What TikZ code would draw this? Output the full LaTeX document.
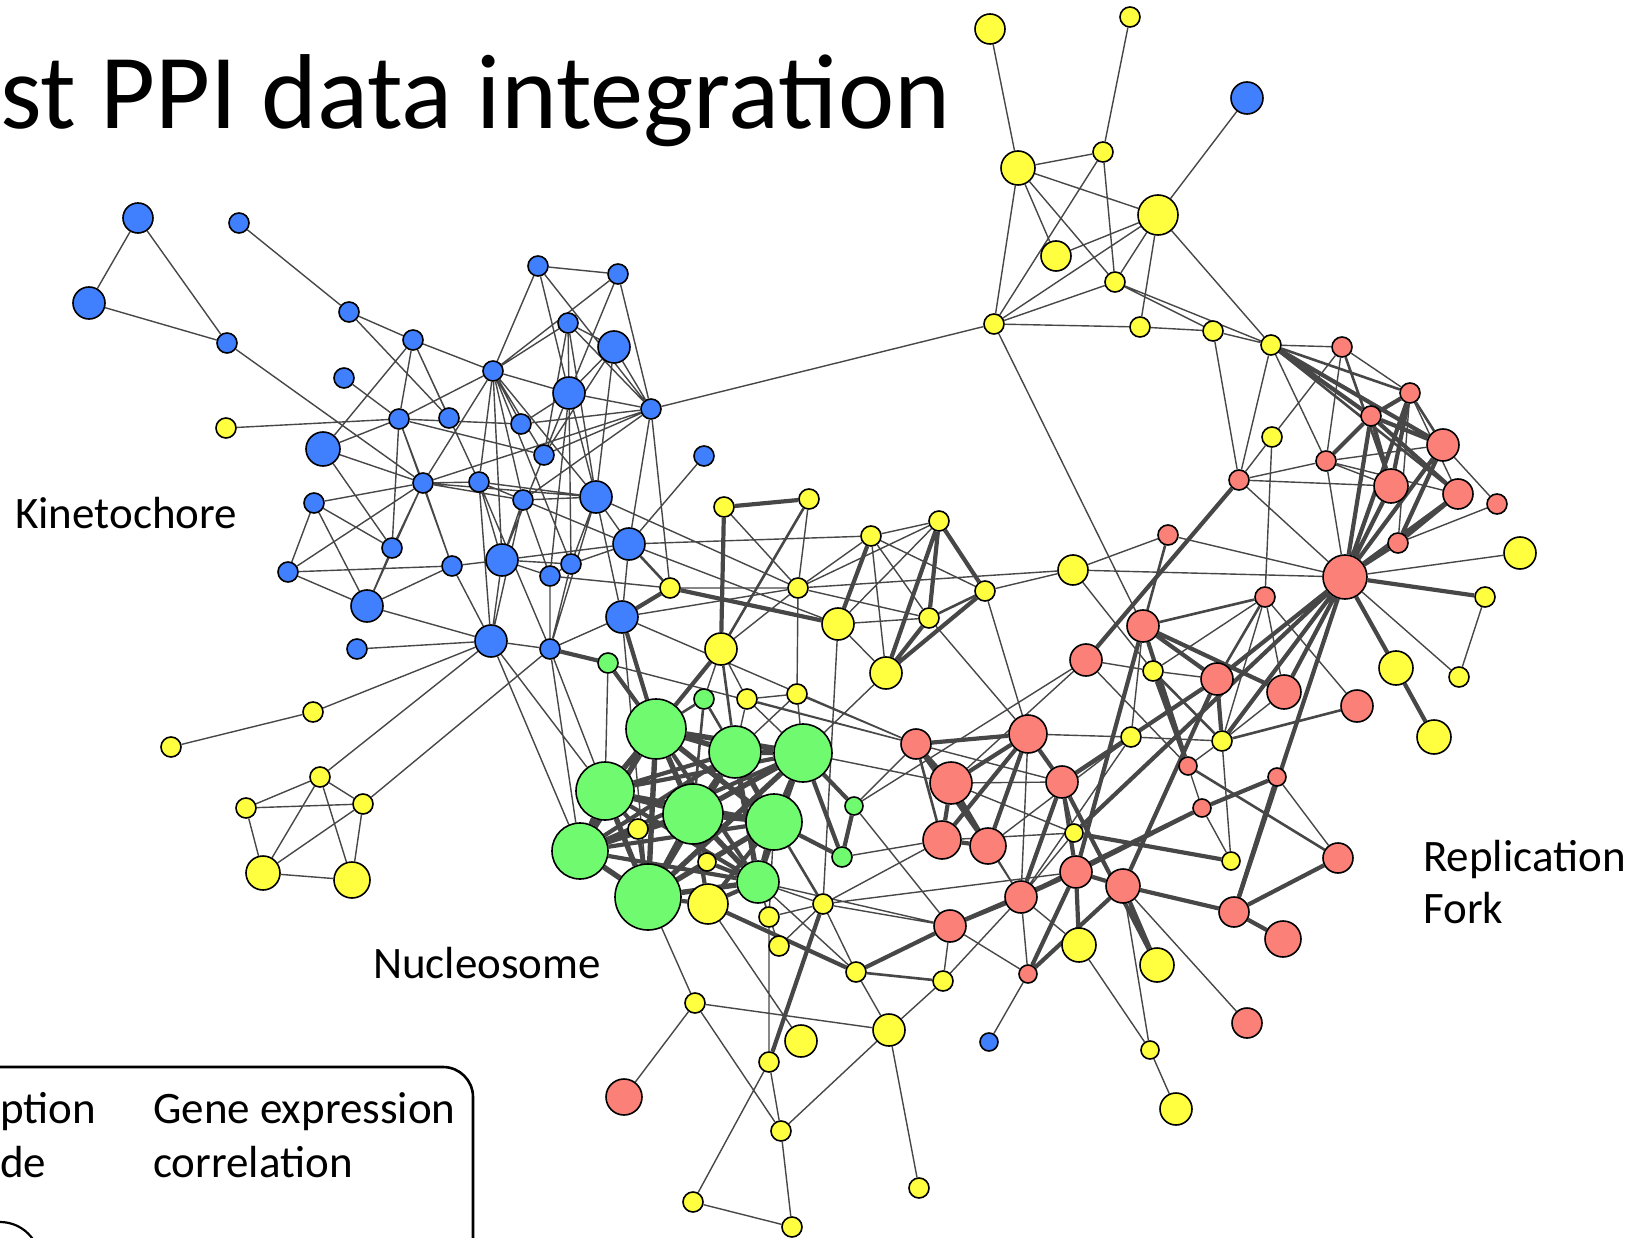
\documentclass[tikz,border=0pt]{standalone}
\usepackage{fontspec}
\setmainfont{Carlito}
\usetikzlibrary{backgrounds}
\definecolor{kinblue}{HTML}{4080FF}
\definecolor{othyellow}{HTML}{FFFF40}
\definecolor{nucgreen}{HTML}{70FA70}
\definecolor{repred}{HTML}{FA8078}
\definecolor{linkgray}{HTML}{474747}

\begin{document}
\begin{tikzpicture}[x=1pt,y=-1pt,
  prot/.style={circle,draw=black,line width=1.6pt,inner sep=0pt,minimum size={2*#1}},
  kin/.style={prot=#1,fill=kinblue},
  oth/.style={prot=#1,fill=othyellow},
  nuc/.style={prot=#1,fill=nucgreen},
  rep/.style={prot=#1,fill=repred},
  lnk/.style={draw=linkgray,line width=1.4pt},
  lnkm/.style={draw=linkgray,line width=2.6pt},
  lnkk/.style={draw=linkgray,line width=4.2pt},
  lnkx/.style={draw=linkgray,line width=5.4pt},
  lbl/.style={anchor=base west,inner sep=0pt,font=\fontsize{45}{51}\selectfont},
]
\useasboundingbox (0,0) rectangle (1647,1238);

% title and labels
\node[anchor=base west,inner sep=0pt,font=\fontsize{106.5}{112}\selectfont] (title) at (0,129) {st PPI data integration};
\node[lbl] (kinlbl) at (15,528) {Kinetochore};
\node[lbl] (nuclbl) at (373,978) {Nucleosome};
\node[lbl] (replbl) at (1423,871) {Replication};
\node[lbl] (forklbl) at (1423,923) {Fork};

% legend (cut off)
\draw[line width=2.6pt,rounded corners=30pt] (-60,1067) -- (473,1067) -- (473,1300);
\node[lbl] (legA) at (0,1123) {ption};
\node[lbl] (legB) at (0,1177) {de};
\node[lbl] (legC) at (153,1123) {Gene expression};
\node[lbl] (legD) at (153,1177) {correlation};
\draw[line width=2.2pt] (0,1262) circle (40pt);

% kinetochore
\node[kin=15] (b1) at (138,218) {};
\node[kin=16] (b2) at (89,303) {};
\node[kin=10] (b3) at (239,223) {};
\node[kin=10] (b4) at (227,343) {};
\node[kin=10] (b5) at (349,312) {};
\node[kin=10] (b6) at (413,340) {};
\node[kin=10] (b7) at (344,378) {};
\node[kin=10] (b8) at (399,419) {};
\node[kin=17] (b9) at (323,449) {};
\node[kin=10] (b10) at (423,483) {};
\node[kin=10] (b11) at (314,503) {};
\node[kin=10] (b12) at (392,548) {};
\node[kin=10] (b13) at (288,572) {};
\node[kin=10] (b14) at (449,418) {};
\node[kin=10] (b15) at (493,371) {};
\node[kin=10] (b16) at (538,266) {};
\node[kin=10] (b17) at (618,274) {};
\node[kin=10] (b18) at (568,323) {};
\node[kin=16] (b19) at (614,347) {};
\node[kin=16] (b20) at (569,393) {};
\node[kin=10] (b21) at (651,409) {};
\node[kin=10] (b22) at (521,424) {};
\node[kin=10] (b23) at (544,455) {};
\node[kin=10] (b24) at (704,456) {};
\node[kin=10] (b25) at (479,482) {};
\node[kin=10] (b26) at (523,500) {};
\node[kin=16] (b27) at (596,497) {};
\node[kin=10] (b28) at (452,566) {};
\node[kin=16] (b29) at (502,560) {};
\node[kin=10] (b30) at (571,564) {};
\node[kin=10] (b31) at (550,576) {};
\node[kin=16] (b32) at (629,544) {};
\node[kin=16] (b33) at (367,606) {};
\node[kin=16] (b34) at (622,617) {};
\node[kin=16] (b35) at (491,641) {};
\node[kin=10] (b36) at (357,649) {};
\node[kin=10] (b37) at (550,649) {};
\node[kin=16] (b40) at (1247,98) {};
\node[kin=9] (b41) at (989,1042) {};

% other proteins
\node[oth=10] (y1) at (226,428) {};
\node[oth=10] (y2) at (670,588) {};
\node[oth=10] (y3) at (724,507) {};
\node[oth=16] (y4) at (721,649) {};
\node[oth=10] (y5) at (313,712) {};
\node[oth=10] (y6) at (171,747) {};
\node[oth=10] (y7) at (320,777) {};
\node[oth=10] (y8) at (246,808) {};
\node[oth=10] (y9) at (363,804) {};
\node[oth=17] (y10) at (263,873) {};
\node[oth=18] (y11) at (352,880) {};
\node[oth=15] (y20) at (990,29) {};
\node[oth=10] (y21) at (1130,17) {};
\node[oth=17] (y22) at (1018,168) {};
\node[oth=10] (y23) at (1103,152) {};
\node[oth=20] (y24) at (1158,215) {};
\node[oth=15] (y25) at (1056,256) {};
\node[oth=10] (y26) at (1115,282) {};
\node[oth=10] (y27) at (994,324) {};
\node[oth=10] (y28) at (1140,327) {};
\node[oth=10] (y29) at (1213,331) {};
\node[oth=10] (y30) at (1271,345) {};
\node[oth=10] (y31) at (1272,437) {};
\node[oth=16] (y32) at (1520,553) {};
\node[oth=10] (y33) at (1485,597) {};
\node[oth=17] (y34) at (1396,668) {};
\node[oth=10] (y35) at (1459,677) {};
\node[oth=17] (y36) at (1434,737) {};
\node[oth=10] (y37) at (1222,741) {};
\node[oth=10] (y38) at (1153,671) {};
\node[oth=15] (y40) at (1073,570) {};
\node[oth=10] (y41) at (809,499) {};
\node[oth=10] (y42) at (871,536) {};
\node[oth=10] (y43) at (939,521) {};
\node[oth=10] (y44) at (798,588) {};
\node[oth=16] (y45) at (838,624) {};
\node[oth=10] (y46) at (929,618) {};
\node[oth=16] (y47) at (886,673) {};
\node[oth=10] (y48) at (747,699) {};
\node[oth=10] (y49) at (797,694) {};
\node[oth=10] (y50) at (638,829) {};
\node[oth=9] (y51) at (707,862) {};
\node[oth=20] (y52) at (708,904) {};
\node[oth=10] (y53) at (769,917) {};
\node[oth=10] (y54) at (823,904) {};
\node[oth=10] (y55) at (779,946) {};
\node[oth=10] (y56) at (856,972) {};
\node[oth=10] (y57) at (943,981) {};
\node[oth=10] (y58) at (695,1003) {};
\node[oth=16] (y59) at (889,1030) {};
\node[oth=16] (y60) at (801,1041) {};
\node[oth=10] (y61) at (769,1062) {};
\node[oth=10] (y62) at (781,1131) {};
\node[oth=10] (y63) at (919,1188) {};
\node[oth=10] (y64) at (693,1202) {};
\node[oth=10] (y65) at (792,1227) {};
\node[oth=10] (y66) at (985,591) {};
\node[oth=10] (y68) at (1131,737) {};
\node[oth=9] (y69) at (1074,833) {};
\node[oth=9] (y70) at (1231,861) {};
\node[oth=17] (y71) at (1079,945) {};
\node[oth=17] (y72) at (1157,965) {};
\node[oth=9] (y73) at (1150,1050) {};
\node[oth=16] (y74) at (1176,1109) {};

% nucleosome
\node[nuc=10] (g1) at (608,663) {};
\node[nuc=10] (g2) at (704,699) {};
\node[nuc=30] (g3) at (656,729) {};
\node[nuc=26] (g4) at (735,752) {};
\node[nuc=29] (g5) at (803,753) {};
\node[nuc=29] (g6) at (605,791) {};
\node[nuc=30] (g7) at (693,814) {};
\node[nuc=28] (g8) at (774,822) {};
\node[nuc=9] (g9) at (854,806) {};
\node[nuc=28] (g10) at (580,851) {};
\node[nuc=10] (g11) at (842,857) {};
\node[nuc=33] (g12) at (648,897) {};
\node[nuc=21] (g13) at (758,882) {};

% replication fork
\node[rep=10] (r1) at (1342,347) {};
\node[rep=10] (r2) at (1410,393) {};
\node[rep=10] (r3) at (1371,416) {};
\node[rep=16] (r4) at (1443,445) {};
\node[rep=10] (r5) at (1326,461) {};
\node[rep=10] (r6) at (1239,480) {};
\node[rep=17] (r7) at (1391,486) {};
\node[rep=15] (r8) at (1458,494) {};
\node[rep=10] (r9) at (1497,504) {};
\node[rep=10] (r10) at (1168,535) {};
\node[rep=10] (r11) at (1398,543) {};
\node[rep=22] (r12) at (1345,577) {};
\node[rep=10] (r13) at (1265,597) {};
\node[rep=16] (r14) at (1143,626) {};
\node[rep=16] (r15) at (1217,679) {};
\node[rep=17] (r16) at (1284,692) {};
\node[rep=16] (r17) at (1357,706) {};
\node[rep=15] (r20) at (916,744) {};
\node[rep=18] (r30) at (624,1097) {};
\node[rep=16] (r41) at (1086,660) {};
\node[rep=19] (r43) at (1028,734) {};
\node[rep=21] (r44) at (951,783) {};
\node[rep=16] (r45) at (1062,782) {};
\node[rep=9] (r46) at (1188,766) {};
\node[rep=9] (r47) at (1277,777) {};
\node[rep=19] (r48) at (942,840) {};
\node[rep=18] (r49) at (988,846) {};
\node[rep=9] (r50) at (1202,808) {};
\node[rep=16] (r51) at (1076,872) {};
\node[rep=17] (r52) at (1123,886) {};
\node[rep=16] (r53) at (1021,897) {};
\node[rep=15] (r54) at (1234,912) {};
\node[rep=18] (r55) at (1283,939) {};
\node[rep=16] (r56) at (950,926) {};
\node[rep=9] (r57) at (1028,974) {};
\node[rep=15] (r58) at (1338,858) {};
\node[rep=15] (r59) at (1247,1023) {};

\begin{pgfonlayer}{background}
% kinetochore links
\draw[lnk] (b1)--(b2) (b1)--(b4) (b2)--(b4) (b3)--(b5) (b4)--(b10) (b5)--(b6) (b5)--(b14)
  (b7)--(b8) (y1)--(b8) (b6)--(b9) (b6)--(b15) (b6)--(b14) (b6)--(b8) (b6)--(b25)
  (b9)--(b8) (b9)--(b10) (b9)--(b12) (b8)--(b12) (b8)--(b15) (b8)--(b10) (b8)--(b22)
  (b8)--(b23) (b8)--(b28) (b11)--(b10) (b11)--(b13) (b11)--(b12) (b11)--(b33) (b13)--(b10)
  (b13)--(b28) (b12)--(b10) (b16)--(b17) (b16)--(b15) (b16)--(b20) (b16)--(b21) (b17)--(b15)
  (b17)--(b20) (b17)--(b21) (b18)--(b15) (b18)--(b20) (b18)--(b21) (b18)--(b23) (b18)--(b27)
  (b18)--(b19) (b19)--(b20) (b19)--(b21) (b19)--(b27) (b19)--(b23) (b15)--(b20) (b15)--(b22)
  (b15)--(b23) (b15)--(b26) (b15)--(b29) (b15)--(b30) (b15)--(b27) (b15)--(b10) (b15)--(b25)
  (b20)--(b21) (b20)--(b22) (b20)--(b23) (b20)--(b27) (b20)--(b29) (b20)--(b31) (b20)--(b30)
  (b21)--(b22) (b21)--(b23) (b21)--(b26) (b21)--(b32) (b21)--(y2) (b21)--(b10) (b21)--(y27)
  (b24)--(b32) (b10)--(b25) (b10)--(b27) (b10)--(b26) (b10)--(b28) (b10)--(b33) (b25)--(b26)
  (b25)--(b27) (b25)--(b29) (b25)--(b35) (b25)--(b37) (b26)--(b27) (b26)--(b31) (b26)--(b32)
  (b26)--(b29) (b26)--(b35) (b27)--(b32) (b27)--(b30) (b27)--(b34) (b27)--(b37) (b27)--(y44)
  (b28)--(b29) (b28)--(b33) (b28)--(b35) (b29)--(b30) (b29)--(b32) (b29)--(b35) (b29)--(b31)
  (b30)--(b31) (b30)--(b32) (b30)--(b37) (b31)--(y2) (b31)--(b37) (b32)--(b34) (b32)--(y45)
  (b32)--(y42) (b33)--(b35) (b33)--(b12) (b33)--(b13) (b34)--(b37) (b36)--(b35) (b34)--(y44)
  (b35)--(b37) (y5)--(b35) (y5)--(y6) (y7)--(b35) (y9)--(b37)
  (y7)--(y8) (y7)--(y9) (y8)--(y9) (y8)--(y10) (y7)--(y10) (y7)--(y11) (y9)--(y10)
  (y9)--(y11) (y10)--(y11);
% upper right group
\draw[lnk] (y20)--(y22) (y21)--(y23) (b40)--(y24) (y22)--(y23) (y22)--(y24) (y22)--(y25)
  (y22)--(y26) (y22)--(y27) (y23)--(y27) (y23)--(y26) (y24)--(y25) (y24)--(y27) (y24)--(y26)
  (y24)--(y28) (y24)--(y30) (y26)--(y27) (y27)--(y28) (y26)--(y29) (y26)--(y30) (y28)--(y29)
  (y29)--(y30) (y27)--(r14) (y29)--(r6);
% replication fork links
\draw[lnk] (y30)--(r1) (y30)--(r6) (y30)--(r5) (y31)--(r6) (y31)--(r1) (y31)--(r13)
  (r1)--(r2) (r1)--(r5) (r2)--(r11) (r2)--(r8) (r4)--(r9) (r4)--(r5) (r5)--(r6) (r5)--(r7)
  (r5)--(r12) (r5)--(r8) (r6)--(r12) (r6)--(r7) (r9)--(r11) (r12)--(y32) (r12)--(y35)
  (r12)--(r10) (r12)--(y40) (y33)--(y35) (r13)--(y38) (r13)--(r17) (r13)--(y37) (r13)--(r16)
  (r10)--(y40) (y38)--(r15);
\draw[lnkm] (y30)--(r2) (y30)--(r8) (r1)--(r7) (r2)--(r4) (r13)--(r14) (r13)--(r15)
  (r17)--(y37) (r10)--(r14) (y38)--(y37);
\draw[lnkk] (y30)--(r3) (y30)--(r4) (r2)--(r3) (r2)--(r7) (r2)--(r12) (r3)--(r4) (r3)--(r5)
  (r3)--(r7) (r3)--(r12) (r3)--(r8) (r4)--(r12) (r4)--(r11) (r6)--(r41) (r7)--(r12)
  (r8)--(r12) (r8)--(r11) (r11)--(r12) (r12)--(y33) (r12)--(y34) (r12)--(r16) (r12)--(r15)
  (r12)--(y37) (r12)--(r54) (r12)--(y69) (y34)--(y36) (r14)--(r15) (r14)--(r16);
% middle group
\draw[lnk] (y3)--(y44) (y41)--(y44) (y2)--(y44) (y44)--(y42) (y44)--(y43) (y44)--(y46)
  (y44)--(y4) (y44)--(y49) (y44)--(y40) (y42)--(y47) (y42)--(y46) (y42)--(y66) (y43)--(y45)
  (y42)--(y43) (y45)--(y46) (y45)--(y47) (y45)--(y54) (y47)--(g5) (y66)--(y40) (y66)--(r43)
  (y46)--(r43) (y40)--(y38) (y4)--(y48) (y48)--(g4) (y48)--(g5) (y48)--(r20) (y48)--(y49)
  (y49)--(g5) (y49)--(g4) (y49)--(r20) (g2)--(y4) (b34)--(r20) (b37)--(r20) (g1)--(g6)
  (b37)--(g10) (b37)--(g6) (b34)--(g12) (b35)--(g10) (b35)--(g6);
\draw[lnkm] (y41)--(y4) (y2)--(b32) (y66)--(y46) (g2)--(g3) (g2)--(g4) (g2)--(g7) (y4)--(g4);
\draw[lnkk] (y3)--(y41) (y3)--(y4) (y2)--(y45) (y2)--(b34) (y42)--(y45) (y43)--(y46)
  (y43)--(y47) (y43)--(y66) (y47)--(y46) (y66)--(y47) (y4)--(g3) (b37)--(g1) (g1)--(g3)
  (b34)--(g3);
% nucleosome core
\draw[lnkx] (g3)--(g4) (g3)--(g5) (g3)--(g6) (g3)--(g7) (g3)--(g8) (g3)--(g10) (g3)--(g12)
  (g4)--(g5) (g4)--(g7) (g4)--(g8) (g4)--(g12) (g4)--(g13) (g5)--(g7) (g5)--(g8) (g5)--(g12)
  (g6)--(g7) (g6)--(g10) (g6)--(g12) (g7)--(g8) (g7)--(g10) (g7)--(g12) (g7)--(g13)
  (g8)--(g12) (g8)--(g13) (g10)--(g12) (g12)--(g13);
\draw[lnkk] (g3)--(g13) (g4)--(g6) (g4)--(g10) (g5)--(g6) (g5)--(g13) (g6)--(g8) (g6)--(g13)
  (g8)--(g10) (g10)--(g13) (g5)--(g10)
  (y50)--(g6) (y50)--(g7) (y50)--(g12) (y50)--(g10) (y51)--(g7) (y51)--(g12) (y51)--(g13)
  (y51)--(g8) (y52)--(g12) (y52)--(g7) (y52)--(g13) (y52)--(g8)
  (g9)--(g5) (g9)--(g11) (g11)--(g8) (g11)--(g5);
\draw[lnk] (g9)--(r20) (g9)--(r56) (g11)--(r48) (g5)--(r44) (r41)--(g9);
% lower group
\draw[lnk] (y53)--(g13) (y53)--(g8) (y54)--(g13) (y55)--(g13) (y53)--(y61) (y54)--(y55)
  (y54)--(y53) (y54)--(y56) (y52)--(y60) (y56)--(y59) (y59)--(y57) (y59)--(y63) (y58)--(y59)
  (y58)--(r30) (y58)--(y62) (g12)--(y58) (y61)--(y64) (y61)--(y62) (y62)--(y59) (y62)--(y65)
  (y64)--(y65) (y54)--(r51) (g13)--(y56) (g13)--(r56) (r48)--(y54) (r56)--(y54) (y57)--(r53)
  (r56)--(y57);
\draw[lnkm] (y56)--(y57) (g8)--(y54);
\draw[lnkk] (y54)--(y61) (y52)--(y56) (y56)--(r56);
% replication fork core
\draw[lnk] (r20)--(r45) (r43)--(y68) (r43)--(r53) (r44)--(r45) (y69)--(r45) (y69)--(r48)
  (y69)--(r44) (r41)--(y38) (r41)--(r46) (r41)--(r44) (y68)--(y37) (y68)--(r14) (y68)--(r49)
  (y68)--(r53) (y70)--(r50) (y70)--(y37) (r46)--(r50) (r46)--(y37) (r16)--(y37) (r47)--(r58)
  (r52)--(y73) (r52)--(r59) (r53)--(r57) (r53)--(y71) (r53)--(y69) (r57)--(b41) (r57)--(r56)
  (y71)--(y73) (y73)--(y74) (r49)--(r53) (r44)--(r53);
\draw[lnkm] (r46)--(r58) (r20)--(r48);
\draw[lnkk] (r20)--(r43) (r20)--(r44) (r20)--(r49) (r43)--(r44) (r43)--(r48) (r43)--(r49)
  (r43)--(r45) (r44)--(r48) (r44)--(r49) (r48)--(r49) (r45)--(r51) (r45)--(y72) (r45)--(r53)
  (r45)--(y68) (r15)--(r45) (r15)--(r52) (r15)--(y37) (r14)--(r46) (r14)--(r51) (y38)--(r46)
  (y69)--(y70) (r47)--(r50) (r47)--(r54) (r50)--(r51) (r50)--(r53) (r51)--(r52) (r51)--(r53)
  (r51)--(y71) (r51)--(r56) (r51)--(r57) (r52)--(r54) (r52)--(y72) (r52)--(r57) (r53)--(r56)
  (r54)--(r55) (r54)--(r58);
\end{pgfonlayer}
\end{tikzpicture}
\end{document}
